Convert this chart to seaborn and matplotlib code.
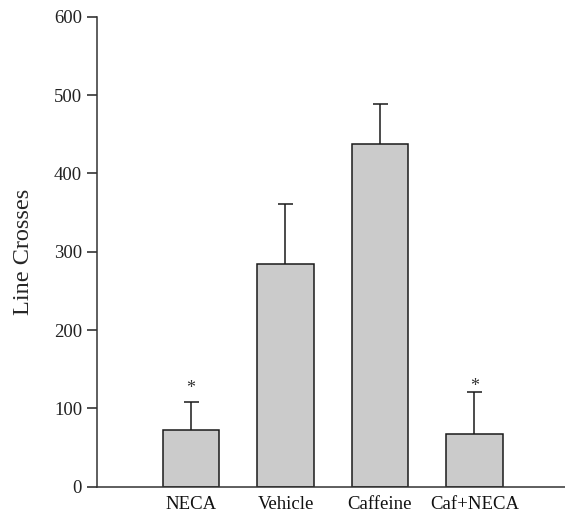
import numpy as np
import pandas as pd
import matplotlib
matplotlib.use("Agg")
import matplotlib.pyplot as plt
import seaborn as sns

# values
groups = ["NECA", "Vehicle", "Caffeine", "Caf+NECA"]
means = [72, 284, 437, 67]
sem = [36, 77, 51, 54]
# significance asterisks: group index -> height of the star
star_idx = [0, 3]
star_y = [128, 131]

df = pd.DataFrame({"group": groups, "crosses": means})

sns.set_style("ticks")
plt.rcParams["font.family"] = ["Liberation Serif", "DejaVu Serif"]

fig = plt.figure(figsize=(5.65, 5.13), dpi=100)
ax = fig.add_axes([0.171, 0.0513, 0.829, 0.9162])

sns.barplot(data=df, x="group", y="crosses", order=groups, color="#cbcbcb",
            edgecolor="#1a1a1a", linewidth=1.1, width=0.6, errorbar=None,
            saturation=1, ax=ax)

# upward-only error bars (hide the lower cap)
xpos = np.arange(len(groups))
_, caps, _ = ax.errorbar(xpos, means, yerr=[np.zeros(len(sem)), sem], fmt="none",
                         ecolor="#1a1a1a", elinewidth=1.1, capsize=5.4,
                         capthick=1.1, zorder=3)
caps[0].set_visible(False)

for i, y in zip(star_idx, star_y):
    ax.text(xpos[i], y - 14, "*", ha="center", va="bottom", fontsize=13,
            color="#333333")

ax.set_xlim(-1.0, 3.96)
ax.set_ylim(0, 600)
ax.set_yticks(range(0, 601, 100))
ax.set_xlabel("")
ax.set_ylabel("Line Crosses", fontsize=17.5, labelpad=14)
ax.tick_params(axis="y", direction="out", length=7, width=1.1, labelsize=13.5,
               colors="#222222")
ax.tick_params(axis="x", length=0, labelsize=13.5, colors="#111111", pad=7)
sns.despine(ax=ax)
for s in ["left", "bottom"]:
    ax.spines[s].set_linewidth(1.1)
    ax.spines[s].set_color("#333333")

fig.savefig("out.png", dpi=100)
